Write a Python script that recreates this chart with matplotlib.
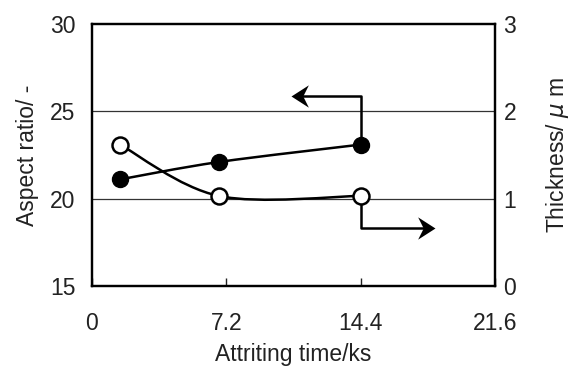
import matplotlib
matplotlib.use("Agg")
import matplotlib.pyplot as plt
import numpy as np
from matplotlib.path import Path
from matplotlib.patches import PathPatch

plt.rcParams['font.family'] = ['Liberation Sans', 'DejaVu Sans']

# attriting time (ks) and measured values
time_ks = [1.5, 6.8, 14.4]
aspect_ratio = [21.1, 22.1, 23.1]
thickness_um = [1.62, 1.03, 1.03]

x_ticks = [0, 7.2, 14.4, 21.6]
x_labels = ['0', '7.2', '14.4', '21.6']
left_ticks = [15, 20, 25, 30]
right_ticks = [0, 1, 2, 3]

FS = 16.5
TXT = '#222222'


def smooth_path(xs, ys):
    """Catmull-Rom style bezier through the points (smoothed line)."""
    pts = np.column_stack([xs, ys]).astype(float)
    ext = np.vstack([pts[0], pts, pts[-1]])
    verts = [pts[0]]
    codes = [Path.MOVETO]
    for i in range(len(pts) - 1):
        p0, p1, p2, p3 = ext[i], ext[i + 1], ext[i + 2], ext[i + 3]
        c1 = p1 + (p2 - p0) / 6.0
        c2 = p2 - (p3 - p1) / 6.0
        verts += [c1, c2, p2]
        codes += [Path.CURVE4] * 3
    return Path(verts, codes)


# barbed arrow heads, tip sitting on the data point
head_right = Path([(0, 0), (-1.4, 0.9), (-0.95, 0), (-1.4, -0.9), (0, 0)],
                  [Path.MOVETO, Path.LINETO, Path.LINETO, Path.LINETO, Path.CLOSEPOLY])
head_left = Path([(0, 0), (1.4, 0.9), (0.95, 0), (1.4, -0.9), (0, 0)],
                 [Path.MOVETO, Path.LINETO, Path.LINETO, Path.LINETO, Path.CLOSEPOLY])

fig = plt.figure(figsize=(5.75, 3.7), dpi=100)
ax = fig.add_axes([0.16, 0.228, 0.701, 0.706])
ax2 = ax.twinx()

ax.set_xlim(0, 21.6)
ax.set_ylim(15, 30)
ax2.set_ylim(0, 3)

for a in (ax, ax2):
    for s in a.spines.values():
        s.set_linewidth(1.6)

ax.set_xticks(x_ticks)
ax.set_xticklabels(x_labels)
ax.set_yticks(left_ticks)
ax2.set_yticks(right_ticks)
ax.tick_params(axis='x', direction='in', length=6, width=1, pad=19, labelsize=FS, colors=TXT)
ax.tick_params(axis='y', length=0, pad=12, labelsize=FS, colors=TXT)
ax2.tick_params(axis='y', length=0, pad=6, labelsize=FS, colors=TXT)

# horizontal grid at 20 and 25
for g in (20, 25):
    ax.axhline(g, color='#333333', lw=0.9, zorder=1)

# aspect ratio (filled) and thickness (open), smoothed lines
ax.add_patch(PathPatch(smooth_path(time_ks, aspect_ratio), fill=False, lw=1.8, ec='black', zorder=3))
ax.plot(time_ks, aspect_ratio, 'o', ms=11.5, mfc='black', mec='black', zorder=4)

ax2.add_patch(PathPatch(smooth_path(time_ks, thickness_um), fill=False, lw=1.8, ec='black', zorder=3))
ax2.plot(time_ks, thickness_um, 'o', ms=11.5, mfc='white', mec='black', mew=1.8, zorder=4)

# elbow arrows pointing to the matching axis
ax.plot([14.4, 14.4, 11.2], [aspect_ratio[-1], 25.9, 25.9], color='black', lw=1.8, zorder=2)
ax.plot([10.65], [25.9], marker=head_left, ms=25, color='black', mew=0, zorder=2)
ax2.plot([14.4, 14.4, 17.8], [thickness_um[-1], 0.66, 0.66], color='black', lw=1.8, zorder=2)
ax2.plot([18.4], [0.66], marker=head_right, ms=25, color='black', mew=0, zorder=2)

ax.set_xlabel('Attriting time/ks', fontsize=FS, color=TXT, labelpad=6)
ax.set_ylabel('Aspect ratio/ -', fontsize=FS, color=TXT, labelpad=8)
ax2.set_ylabel('Thickness/ $\\mu$ m', fontsize=FS, color=TXT, labelpad=20)

fig.savefig('out.png', dpi=100)
